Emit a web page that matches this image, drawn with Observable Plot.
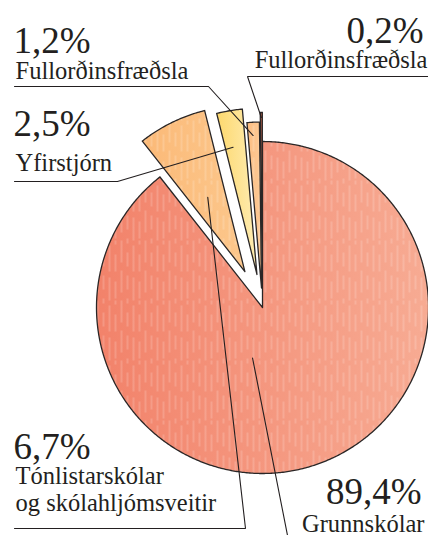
<!DOCTYPE html>
<html>
<head>
<meta charset="utf-8">
<script src="https://cdn.jsdelivr.net/npm/d3@7"></script>
<script src="https://cdn.jsdelivr.net/npm/@observablehq/plot@0.6"></script>
<style>
  html, body { margin: 0; padding: 0; background: #fff; }
</style>
</head>
<body>
<div id="chart"></div>
<script>
// ---- data ----
const categories = ["Grunnskólar", "Tónlistarskólar og skólahljómsveitir", "Yfirstjórn", "Fullorðinsfræðsla", "Fullorðinsfræðsla"];
const values = [89.4, 6.7, 2.5, 1.2, 0.2];
const valueLabels = ["89,4%", "6,7%", "2,5%", "1,2%", "0,2%"];
const labelLines = [["Grunnskólar"], ["Tónlistarskólar", "og skólahljómsveitir"], ["Yfirstjórn"], ["Fullorðinsfræðsla"], ["Fullorðinsfræðsla"]];

// ---- layout / style ----
const W = 428, H = 535;
const center = {x: 262, y: 307}, R = 166;
const explode = [0, 40, 33.5, 19.5, 29];
const fills = ["url(#g0)", "url(#g1)", "url(#g2)", "url(#g3)", "url(#g4)"];
const hatched = [true, true, false, true, false];
const gradStops = [
  [95, 428, "#f2826a", "#f7ab93"],
  [140, 245, "#fbb977", "#fcc78c"],
  [212, 252, "#fdd666", "#feeaab"],
  [240, 258, "#fbb87a", "#fcc792"],
  [256, 262, "#9a4636", "#b6634d"]
];
const labelLayout = [
  {vx: 421, vy: 503, anchor: "end", nx: 424, ny: [531], leader: [[289, 545]], t: 0.594, rf: 0.31},
  {vx: 13, vy: 458, anchor: "start", nx: 15, ny: [483, 510], leader: [[14, 528], [245, 528]], t: 0.48, rf: 0.5},
  {vx: 13, vy: 135, anchor: "start", nx: 15, ny: [170], leader: [[14, 181], [117, 181]], t: 0.38, rf: 0.78},
  {vx: 13, vy: 52, anchor: "start", nx: 15, ny: [78], leader: [[14, 86], [208, 86]], t: 0.44, rf: 0.92},
  {vx: 423, vy: 42, anchor: "end", nx: 427, ny: [67], leader: [[428, 76], [247, 76]], t: 0.5, rf: 0.97}
];
const FONT = "Liberation Serif";

// ---- geometry via d3.pie ----
const arcs = d3.pie().sort(null).startAngle(0).endAngle(2 * Math.PI)(values);
const slices = arcs.map((a, i) => {
  const mid = (a.startAngle + a.endAngle) / 2;
  const ax = center.x + explode[i] * Math.sin(mid);
  const ay = center.y - explode[i] * Math.cos(mid);
  const pts = [{x: ax, y: ay, i}];
  const n = Math.max(2, Math.ceil((a.endAngle - a.startAngle) / (Math.PI / 360)));
  for (let k = 0; k <= n; k++) {
    const t = a.startAngle + (a.endAngle - a.startAngle) * k / n;
    pts.push({x: ax + R * Math.sin(t), y: ay - R * Math.cos(t), i});
  }
  pts.push({x: ax, y: ay, i});
  const L = labelLayout[i];
  const ang = a.startAngle + (a.endAngle - a.startAngle) * L.t;
  const anchorPt = {x: ax + R * L.rf * Math.sin(ang), y: ay - R * L.rf * Math.cos(ang)};
  return {pts, anchorPt};
});

const leaders = labelLayout.map((L, i) =>
  [...L.leader.map(([x, y]) => ({x, y, i})), {...slices[i].anchorPt, i}]).flat();

const texts = [];
labelLayout.forEach((L, i) => {
  texts.push({x: L.vx, y: L.vy, text: valueLabels[i], size: 37, anchor: L.anchor});
  labelLines[i].forEach((s, j) => texts.push({x: L.nx, y: L.ny[j], text: s, size: 24.5, anchor: L.anchor}));
});

function defsMark() {
  const defs = d3.create("svg:defs");
  gradStops.forEach(([x1, x2, c1, c2], i) => {
    const g = defs.append("linearGradient").attr("id", "g" + i)
      .attr("gradientUnits", "userSpaceOnUse")
      .attr("x1", x1).attr("x2", x2).attr("y1", 0).attr("y2", 0);
    g.append("stop").attr("offset", 0).attr("stop-color", c1);
    g.append("stop").attr("offset", 1).attr("stop-color", c2);
  });
  const p = defs.append("pattern").attr("id", "hatch").attr("patternUnits", "userSpaceOnUse")
    .attr("width", 24).attr("height", 60);
  [[1, "22 8", 0], [7, "14 9", 11], [13, "26 6", 27], [19, "17 10", 40]].forEach(([x, dash, off]) => {
    p.append("line").attr("x1", x).attr("x2", x).attr("y1", 0).attr("y2", 60)
      .attr("stroke", "#fff").attr("stroke-opacity", 0.32).attr("stroke-width", 1)
      .attr("stroke-dasharray", dash).attr("stroke-dashoffset", off);
  });
  return defs.node();
}

const marks = [defsMark];
slices.forEach((s, i) => {
  marks.push(Plot.line(s.pts, {x: "x", y: "y", fill: fills[i], stroke: "none"}));
  if (hatched[i]) marks.push(Plot.line(s.pts, {x: "x", y: "y", fill: "url(#hatch)", stroke: "none"}));
  marks.push(Plot.line(s.pts, {x: "x", y: "y", stroke: "#2a2626", strokeWidth: 1.3, strokeLinejoin: "miter", strokeMiterlimit: 20}));
});
marks.push(Plot.line(leaders, {x: "x", y: "y", z: "i", stroke: "#231f20", strokeWidth: 1.1, strokeLinejoin: "miter"}));
for (const anchor of ["start", "end"]) {
  marks.push(Plot.text(texts.filter(d => d.anchor === anchor),
    {x: "x", y: "y", text: "text", fontSize: "size", textAnchor: anchor, lineAnchor: "bottom", fill: "#231f20", fontFamily: FONT}));
}

const chart = Plot.plot({
  width: W, height: H, margin: 0,
  x: {domain: [0, W], range: [0, W], axis: null},
  y: {domain: [0, H], range: [0, H], axis: null},
  style: {background: "#fff", overflow: "visible"},
  marks
});
chart.setAttribute("font-family", FONT);
d3.select(chart).selectAll("g[font-family]").attr("font-family", FONT);
d3.select(chart).selectAll("text").attr("font-family", FONT);
document.getElementById("chart").appendChild(chart);
</script>
</body>
</html>
